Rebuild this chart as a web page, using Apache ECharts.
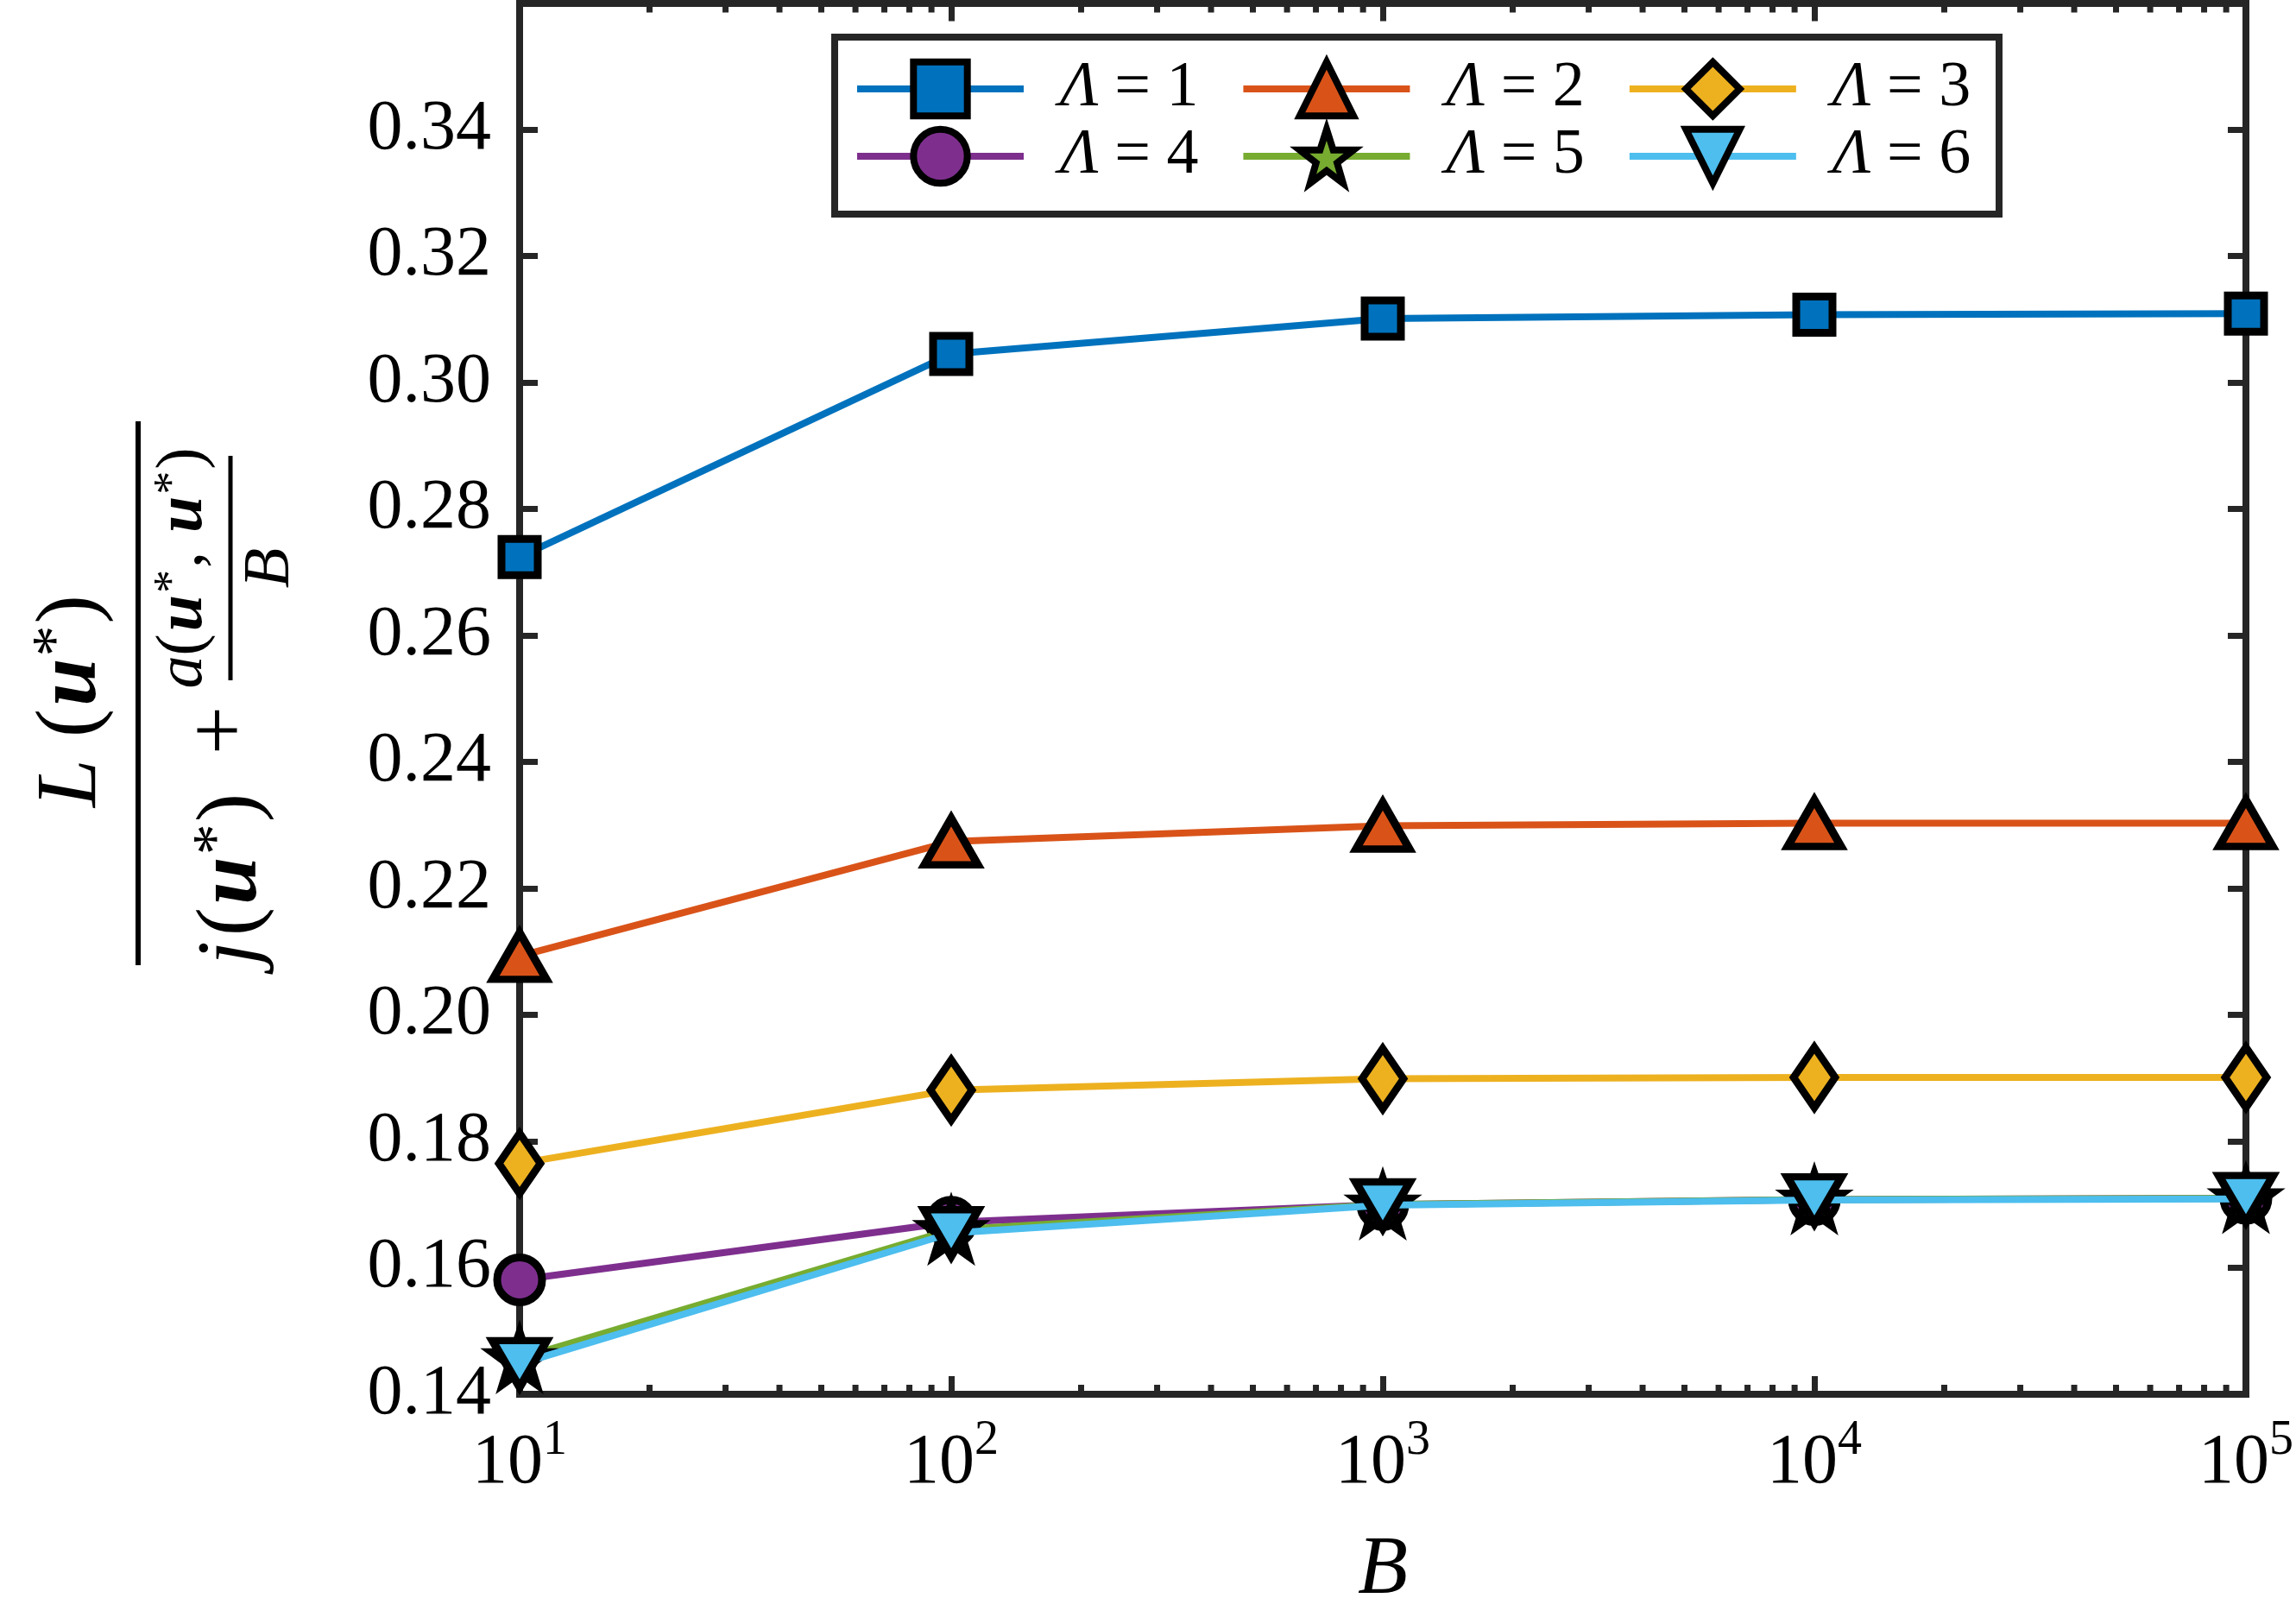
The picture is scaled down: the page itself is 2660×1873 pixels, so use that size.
<!DOCTYPE html>
<html><head><meta charset="utf-8">
<script src="https://cdn.jsdelivr.net/npm/echarts@6/dist/echarts.min.js"></script>
<style>html,body{margin:0;padding:0;background:#fff}#c{width:2660px;height:1873px}</style>
</head><body><div id="c"></div>
<script>
// ---- data ----
const bValues = [10, 100, 1000, 10000, 100000];
const seriesNames = ['Λ = 1', 'Λ = 2', 'Λ = 3', 'Λ = 4', 'Λ = 5', 'Λ = 6'];
const lambda1 = [0.2724, 0.3045, 0.3101, 0.3107, 0.3109];
const lambda2 = [0.2093, 0.2274, 0.2299, 0.2303, 0.2303];
const lambda3 = [0.1765, 0.1881, 0.1899, 0.1901, 0.1901];
const lambda4 = [0.1581, 0.1672, 0.1700, 0.1708, 0.1710];
const lambda5 = [0.1457, 0.1660, 0.1700, 0.1708, 0.1710];
const lambda6 = [0.1448, 0.1655, 0.1699, 0.1707, 0.1709];
const yMin = 0.14, yMax = 0.36, yStep = 0.02;
const xMin = 10, xMax = 100000;
const minorTickValues = [20,30,40,50,60,70,80,90,
  200,300,400,500,600,700,800,900,
  2000,3000,4000,5000,6000,7000,8000,9000,
  20000,30000,40000,50000,60000,70000,80000,90000];

const allSeries = [lambda1, lambda2, lambda3, lambda4, lambda5, lambda6];
const colors = ['#0072BD', '#D95319', '#EDB120', '#7E2F8E', '#77AC30', '#4DBEEE'];
const starPath = 'path://M50,0 L61.8,35.1 L98.1,35.1 L68.8,56.7 L79.4,91.0 L50,70 L20.6,91 L31.2,56.7 L1.9,35.1 L38.2,35.1 Z';
const symbols = ['rect', 'triangle', 'diamond', 'circle', starPath, 'triangle'];
const symbolSizes = [42, [62, 54], [48, 70], 52, 64, [63, 54]];
const symbolRotates = [0, 0, 0, 0, 0, 180];

const F = "'Liberation Serif', 'Times New Roman', serif";
const AX = '#262626';
const CLEAR = 'rgba(0,0,0,0)';

const chart = echarts.init(document.getElementById('c'));

const lineSeries = allSeries.map((vals, i) => ({
  type: 'line',
  name: seriesNames[i],
  xAxisIndex: 0, yAxisIndex: 0,
  data: bValues.map((b, k) => [b, vals[k]]),
  symbol: symbols[i],
  symbolSize: symbolSizes[i],
  symbolRotate: symbolRotates[i],
  symbolKeepAspect: true,
  showSymbol: true,
  showAllSymbol: true,
  lineStyle: { color: colors[i], width: 8 },
  itemStyle: { color: colors[i], borderColor: '#000', borderWidth: 9, borderJoin: 'miter' },
  z: 3 + i,
  clip: false,
  animation: false
}));

const minorTicks = {
  type: 'custom',
  xAxisIndex: 0, yAxisIndex: 0,
  silent: true, clip: false, z: 1,
  data: minorTickValues.map(v => [v, yMin]),
  encode: { x: 0, y: 1 },
  renderItem: function (params, api) {
    const x = api.coord([api.value(0), yMin])[0];
    const yb = api.coord([xMin, yMin])[1];
    const yt = api.coord([xMin, yMax])[1];
    const st = { stroke: AX, lineWidth: 7 };
    return { type: 'group', children: [
      { type: 'line', shape: { x1: x, y1: yb, x2: x, y2: yb - 11 }, style: st },
      { type: 'line', shape: { x1: x, y1: yt, x2: x, y2: yt + 11 }, style: st }
    ]};
  }
};

const legendCommon = {
  orient: 'horizontal',
  left: 989,
  itemWidth: 193,
  itemHeight: 78,
  itemGap: 48,
  padding: 0,
  selectedMode: false,
  z: 20,
  lineStyle: { width: 8 },
  itemStyle: { borderColor: '#000', borderWidth: 8 },
  formatter: function (name) { return '{i|Λ}' + name.slice(1); },
  textStyle: {
    fontSize: 74, fontFamily: F, color: '#000', padding: [0, 0, 0, 37],
    rich: { i: { fontStyle: 'italic', fontSize: 74, fontFamily: F, color: '#000' } }
  }
};

function richSet(fs, sfs, raise) {
  return {
    i: { fontStyle: 'italic', fontSize: fs, fontFamily: F, fill: '#000' },
    j: { fontStyle: 'italic', fontSize: fs, fontFamily: F, fill: '#000', padding: [0, 6, 0, 0] },
    n: { fontSize: fs, fontFamily: F, fill: '#000' },
    b: { fontStyle: 'italic', fontWeight: 'bold', fontSize: fs, fontFamily: F, fill: '#000', padding: [0, 2, 0, 3] },
    s: { fontSize: sfs, fontFamily: F, fill: '#000', padding: [0, 2, raise, 0] }
  };
}
const bigRich = richSet(100, 72, 34);
const smallRich = richSet(76, 54, 24);

const axisLineStyle = { color: AX, width: 8, cap: 'square' };
const tickStyle = { show: true, inside: true, length: 21, lineStyle: { color: AX, width: 7 } };

function expOf(v) { return Math.round(Math.log10(v)); }

const option = {
  backgroundColor: '#fff',
  animation: false,
  grid: { left: 602, right: 54, top: 3.5, bottom: 258, containLabel: false },
  xAxis: [
    {
      type: 'log', logBase: 10, min: xMin, max: xMax, position: 'bottom',
      axisLine: { show: true, lineStyle: axisLineStyle },
      axisTick: tickStyle,
      splitLine: { show: false },
      axisLabel: {
        margin: 39,
        formatter: function (v) { return '{a|10}{h|' + expOf(v) + '}'; },
        rich: {
          a: { fontSize: 82, fontFamily: F, color: '#000', lineHeight: 82 },
          h: { fontSize: 56, fontFamily: F, color: CLEAR, lineHeight: 82 }
        }
      },
      name: 'B', nameLocation: 'middle', nameGap: 158,
      nameTextStyle: { fontSize: 95, fontFamily: F, fontStyle: 'italic', color: '#000' }
    },
    {
      type: 'log', logBase: 10, min: xMin, max: xMax, position: 'top',
      axisLine: { show: true, lineStyle: axisLineStyle },
      axisTick: tickStyle,
      axisLabel: { show: false }, splitLine: { show: false }
    },
    {
      // superscript exponents of the bottom tick labels
      type: 'log', logBase: 10, min: xMin, max: xMax, position: 'bottom', offset: 0,
      axisLine: { show: false }, axisTick: { show: false }, splitLine: { show: false },
      axisLabel: {
        margin: 13,
        formatter: function (v) { return '{h|10}{s|' + expOf(v) + '}'; },
        rich: {
          h: { fontSize: 82, fontFamily: F, color: CLEAR, lineHeight: 82 },
          s: { fontSize: 56, fontFamily: F, color: '#000', lineHeight: 82 }
        }
      }
    }
  ],
  yAxis: [
    {
      type: 'value', min: yMin, max: yMax, interval: yStep, position: 'left',
      axisLine: { show: true, lineStyle: axisLineStyle },
      axisTick: tickStyle,
      splitLine: { show: false },
      axisLabel: {
        fontSize: 82, fontFamily: F, color: '#000', margin: 33,
        formatter: function (v) { return Math.abs(v - yMax) < 1e-9 ? '' : v.toFixed(2); }
      }
    },
    {
      type: 'value', min: yMin, max: yMax, interval: yStep, position: 'right',
      axisLine: { show: true, lineStyle: axisLineStyle },
      axisTick: tickStyle,
      splitLine: { show: false }, axisLabel: { show: false }
    }
  ],
  legend: [
    Object.assign({}, legendCommon, { top: 66, data: seriesNames.slice(0, 3) }),
    Object.assign({}, legendCommon, { top: 144, data: seriesNames.slice(3, 6) })
  ],
  graphic: [
    {
      type: 'rect', z: 15, silent: true,
      shape: { x: 967, y: 43, width: 1349, height: 205 },
      style: { fill: '#fff', stroke: AX, lineWidth: 8 }
    },
    {
      type: 'group', x: 0, y: 807, rotation: Math.PI / 2, silent: true,
      children: [
        { type: 'line', shape: { x1: -311, y1: 160, x2: 319, y2: 160 }, style: { stroke: '#000', lineWidth: 6 } },
        { type: 'text', x: -5, y: 84, style: { text: '{i|L}{n| (}{b|u}{s|*}{n|)}', rich: bigRich, align: 'center', verticalAlign: 'middle' } },
        { type: 'text', x: -311, y: 270, style: { text: '{j|j}{n|(}{b|u}{s|*}{n|)}', rich: bigRich, align: 'left', verticalAlign: 'middle' } },
        { type: 'text', x: -39, y: 259, style: { text: '{n|+}', rich: bigRich, align: 'center', verticalAlign: 'middle' } },
        { type: 'line', shape: { x1: 19, y1: 267, x2: 279, y2: 267 }, style: { stroke: '#000', lineWidth: 5 } },
        { type: 'text', x: 149, y: 213, style: { text: '{i|a}{n|(}{b|u}{s|*}{n|, }{b|u}{s|*}{n|)}', rich: smallRich, align: 'center', verticalAlign: 'middle' } },
        { type: 'text', x: 149, y: 314, style: { text: '{i|B}', rich: smallRich, align: 'center', verticalAlign: 'middle' } }
      ]
    }
  ],
  series: lineSeries.concat([minorTicks])
};
chart.setOption(option);
</script>
</body></html>
